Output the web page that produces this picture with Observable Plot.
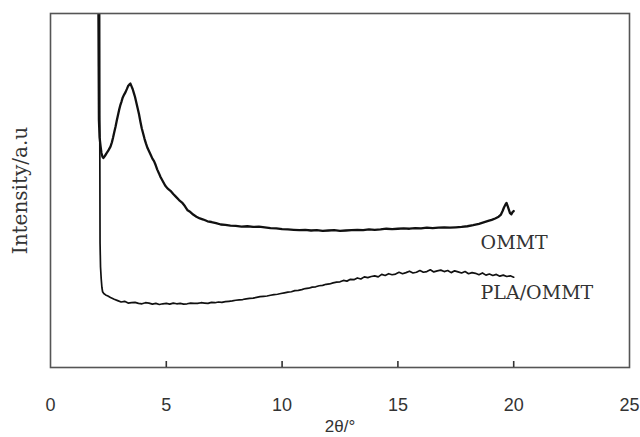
<!DOCTYPE html>
<html>
<head>
<meta charset="utf-8">
<script src="https://cdn.jsdelivr.net/npm/d3@7"></script>
<script src="https://cdn.jsdelivr.net/npm/@observablehq/plot@0.6"></script>
<style>
  html, body { margin: 0; padding: 0; background: #fff; }
</style>
</head>
<body>
<div id="chart"></div>
<script>
// ---- data ----
const xTicks = [0, 5, 10, 15, 20, 25];
const innerTicks = [5, 10, 15, 20];
const xLabel = "2θ/°";
const yLabel = "Intensity/a.u";
const seriesNames = ["OMMT", "PLA/OMMT"];
const labelPos = [[18.57, 35.3], [18.57, 21.2]];

const ommtX = [2.07,2.08,2.09,2.12,2.16,2.20,2.24,2.28,2.33,2.38,2.43,2.48,2.53,2.59,2.65,2.70,2.75,2.81,2.86,2.91,2.96,3.02,3.07,3.12,3.18,3.24,3.30,3.35,3.40,3.45,3.50,3.55,3.60,3.65,3.70,3.76,3.82,3.88,3.94,4.00,4.06,4.12,4.19,4.26,4.33,4.40,4.47,4.54,4.61,4.68,4.75,4.85,4.95,5.05,5.18,5.30,5.42,5.55,5.68,5.80,5.92,6.04,6.16,6.30,6.45,6.60,6.78,6.95,7.15,7.35,7.55,7.77,8.00,8.25,8.50,8.75,9.00,9.25,9.50,9.75,10.00,10.25,10.50,10.75,11.00,11.25,11.50,11.75,12.00,12.25,12.50,12.75,13.00,13.25,13.50,13.75,14.00,14.25,14.50,14.75,15.00,15.25,15.50,15.75,16.00,16.25,16.50,16.75,17.00,17.25,17.50,17.75,18.00,18.25,18.50,18.70,18.90,19.05,19.20,19.35,19.45,19.52,19.58,19.64,19.69,19.74,19.79,19.84,19.90,19.95,20.00];
const ommtY = [100,85,70,65,62.6,60.6,59.6,59.2,59.6,60.1,60.6,61.1,61.7,62.4,63.6,64.9,66.4,68.1,69.7,71.2,72.7,74.2,75.2,76.3,77.1,77.8,78.7,79.5,79.9,80.2,79.4,78.6,77.5,76.4,75.0,73.3,71.6,69.5,67.6,66.1,64.6,63.3,62.0,61.0,60.0,59.0,58.3,57.2,55.9,54.9,53.8,52.6,51.4,50.6,49.9,49.0,48.2,47.3,46.6,45.6,44.4,43.9,43.2,42.6,42.1,41.8,41.3,41.1,40.8,40.4,40.3,40.1,40.0,39.8,39.9,39.7,39.8,39.6,39.4,39.3,39.1,39.0,38.9,38.8,38.9,38.7,38.8,38.6,38.7,38.8,38.6,38.7,38.8,38.9,38.8,39.0,38.9,39.0,39.2,39.1,39.2,39.3,39.2,39.4,39.3,39.5,39.4,39.5,39.6,39.5,39.6,39.7,39.9,40.2,40.6,41.0,41.4,41.7,42.1,42.6,43.2,44.2,45.2,46.0,46.5,45.6,44.6,43.6,43.3,43.9,44.2];

const plaX = [2.12,2.13,2.14,2.16,2.19,2.22,2.25,2.30,2.38,2.48,2.59,2.75,2.90,3.05,3.20,3.35,3.50,3.65,3.80,3.95,4.10,4.25,4.40,4.55,4.70,4.85,5.00,5.15,5.30,5.45,5.60,5.75,5.90,6.05,6.20,6.35,6.50,6.65,6.80,6.95,7.10,7.25,7.40,7.55,7.70,7.85,8.00,8.15,8.30,8.45,8.60,8.75,8.90,9.05,9.20,9.35,9.50,9.65,9.80,9.95,10.10,10.25,10.40,10.55,10.70,10.85,11.00,11.15,11.30,11.45,11.60,11.75,11.90,12.05,12.20,12.35,12.50,12.65,12.80,12.95,13.10,13.25,13.40,13.55,13.70,13.85,14.00,14.15,14.30,14.45,14.60,14.75,14.90,15.05,15.20,15.35,15.50,15.65,15.80,15.95,16.10,16.25,16.40,16.55,16.70,16.85,17.00,17.15,17.30,17.45,17.60,17.75,17.90,18.05,18.20,18.35,18.50,18.65,18.80,18.95,19.10,19.25,19.40,19.55,19.70,19.85,20.00];
const plaY = [100,60,35,28.4,25.0,22.6,21.4,20.9,20.5,20.2,19.8,19.3,18.9,18.5,18.7,18.2,18.3,18.4,18.1,18.0,18.3,18.2,17.9,18.1,17.8,18.0,18.1,17.9,18.2,18.0,18.1,17.9,18.0,18.2,18.1,18.1,18.3,18.2,18.1,18.4,18.3,18.5,18.4,18.6,18.7,18.8,19.0,19.1,19.2,19.4,19.5,19.6,19.8,20.0,20.1,20.2,20.4,20.6,20.7,20.9,21.1,21.3,21.4,21.7,21.8,22.0,22.3,22.4,22.7,22.8,23.1,23.2,23.5,23.6,23.9,24.1,24.2,24.6,24.4,24.9,24.8,25.3,25.0,25.6,25.4,25.7,25.9,25.6,26.3,26.0,26.5,26.2,26.4,26.9,26.5,26.8,27.2,26.7,26.9,27.4,26.9,27.1,27.6,27.0,27.3,27.5,27.1,27.4,26.8,27.3,27.0,26.7,27.1,26.5,26.8,26.6,26.2,26.7,26.1,26.4,26.0,26.3,25.8,26.1,25.7,25.9,25.5,25.8,25.6];

const ommt = ommtX.map((x, i) => ({x, y: ommtY[i]}));
const pla = plaX.map((x, i) => ({x, y: plaY[i]}));
const labels = seriesNames.map((name, i) => ({name, x: labelPos[i][0], y: labelPos[i][1]}));

const chart = Plot.plot({
  width: 640,
  height: 437,
  marginLeft: 50,
  marginRight: 11,
  marginTop: 13,
  marginBottom: 70,
  style: {fontFamily: "Liberation Sans", fontSize: "18px", background: "#fff", color: "#333"},
  x: {domain: [0, 25]},
  y: {domain: [0, 100], axis: null},
  marks: [
    Plot.line(pla, {x: "x", y: "y", stroke: "#111", strokeWidth: 1.7, clip: true}),
    Plot.line(ommt, {x: "x", y: "y", stroke: "#111", strokeWidth: 2.3, clip: true}),
    Plot.frame({stroke: "#555", strokeWidth: 1.6}),
    Plot.tickX(innerTicks, {x: (d) => d, insetTop: 348, stroke: "#333", strokeWidth: 1.6}),
    Plot.axisX({ticks: xTicks, tickSize: 0, tickPadding: 31, label: null, fontSize: 18, fontFamily: "Liberation Sans", fill: "#333"}),
    Plot.text([xLabel], {frameAnchor: "bottom", dy: 59, lineAnchor: "middle", fontSize: 17, fontFamily: "Liberation Sans", fill: "#333"}),
    Plot.text([yLabel], {frameAnchor: "left", dx: -30, rotate: -90, textAnchor: "middle", lineAnchor: "middle", fontSize: 20, fontFamily: "DejaVu Serif", fill: "#333"}),
    Plot.text(labels, {x: "x", y: "y", text: "name", textAnchor: "start", fontSize: 19, fontFamily: "DejaVu Serif", fill: "#333"})
  ]
});
document.getElementById("chart").appendChild(chart);
</script>
</body>
</html>
